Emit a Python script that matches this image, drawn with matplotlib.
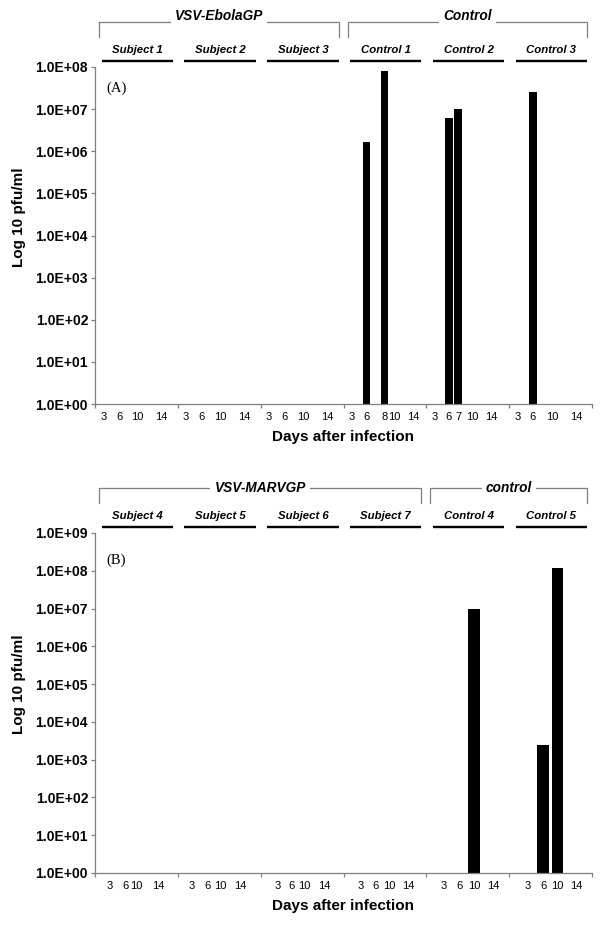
import matplotlib
matplotlib.use('Agg')
import matplotlib.pyplot as plt
from matplotlib.ticker import FixedLocator, NullLocator, FuncFormatter

plt.rcParams['font.family'] = ['Liberation Sans', 'DejaVu Sans']

# ---- panel A: VSV-EbolaGP vaccinated vs controls
groups_a = ['Subject 1', 'Subject 2', 'Subject 3', 'Control 1', 'Control 2', 'Control 3']
days_a = [[3, 6, 10, 14], [3, 6, 10, 14], [3, 6, 10, 14],
          [3, 6, 8, 10, 14], [3, 6, 7, 10, 14], [3, 6, 10, 14]]
bar_group_a = ['Control 1', 'Control 1', 'Control 2', 'Control 2', 'Control 3']
bar_day_a = [6, 8, 6, 7, 6]
bar_titer_a = [1.65e6, 8.0e7, 6.3e6, 1.0e7, 2.6e7]
brackets_a = [('VSV-EbolaGP', 0, 3), ('Control', 3, 6)]

# ---- panel B: VSV-MARVGP vaccinated vs controls
groups_b = ['Subject 4', 'Subject 5', 'Subject 6', 'Subject 7', 'Control 4', 'Control 5']
days_b = [[3, 6, 10, 14]] * 6
bar_group_b = ['Control 4', 'Control 5', 'Control 5']
bar_day_b = [10, 6, 10]
bar_titer_b = [1.0e7, 2.4e3, 1.2e8]
brackets_b = [('VSV-MARVGP', 0, 4), ('control', 4, 6)]

# where each day sits inside its group (fraction of group width), as in the original
slots_a = [[0.10, 0.29, 0.51, 0.80]] * 3 + [[0.093, 0.278, 0.495, 0.616, 0.845],
                                            [0.097, 0.27, 0.384, 0.556, 0.785],
                                            [0.097, 0.287, 0.52, 0.81]]
slots_b = [[0.173, 0.371, 0.504, 0.765], [0.165, 0.355, 0.516, 0.749],
           [0.20, 0.371, 0.531, 0.765], [0.209, 0.383, 0.552, 0.785],
           [0.214, 0.402, 0.576, 0.806], [0.221, 0.411, 0.583, 0.813]]

GRAY = '#7f7f7f'
W, H = 604, 926

fig = plt.figure(figsize=(W / 100, H / 100), dpi=100)
ax_a = fig.add_axes([95 / W, 1 - 404 / H, 497 / W, 337 / H])
ax_b = fig.add_axes([95 / W, 1 - 873 / H, 497 / W, 340 / H])


def draw_panel(ax, groups, days, slots, bar_group, bar_day, bar_titer, brackets,
               top_exp, tag, tag_y, bar_w, title_raise):
    h_px = ax.get_position().height * H

    def up(px):
        return 1 + px / h_px

    # bars start at 1.0E+00
    for g, d, v in zip(bar_group, bar_day, bar_titer):
        gi = groups.index(g)
        x = gi + slots[gi][days[gi].index(d)]
        ax.bar(x, v - 1, bottom=1, width=bar_w, color='black', edgecolor='none')

    ax.set_yscale('log')
    ax.set_ylim(1, 10 ** top_exp)
    ax.yaxis.set_major_locator(FixedLocator([10.0 ** k for k in range(top_exp + 1)]))
    ax.yaxis.set_minor_locator(NullLocator())
    ax.yaxis.set_major_formatter(FuncFormatter(lambda v, _: '%.1E' % v))

    n = len(groups)
    ax.set_xlim(0, n)
    ax.set_xticks(range(n + 1))
    ax.set_xticklabels([])
    pos, labs = [], []
    for gi in range(n):
        for d, s in zip(days[gi], slots[gi]):
            pos.append(gi + s)
            labs.append(str(d))
    ax.set_xticks(pos, labels=labs, minor=True)

    for sp in ['top', 'right']:
        ax.spines[sp].set_visible(False)
    for sp in ['left', 'bottom']:
        ax.spines[sp].set_color(GRAY)
        ax.spines[sp].set_linewidth(0.9)
    ax.tick_params(axis='y', which='major', length=3, width=0.9, color=GRAY, pad=2,
                   labelsize=10)
    for t in ax.get_yticklabels():
        t.set_fontweight('bold')
    ax.tick_params(axis='x', which='major', length=3, width=0.9, color=GRAY)
    ax.tick_params(axis='x', which='minor', length=0, pad=5.5, labelsize=8)

    ax.set_ylabel('Log 10 pfu/ml', fontsize=11, fontweight='bold')
    ax.yaxis.set_label_coords(-0.139, 0.555)
    ax.set_xlabel('Days after infection', fontsize=11, fontweight='bold', va='center')
    ax.xaxis.set_label_coords(0.5, -33 / h_px)

    ax.text(0.022, tag_y, tag, transform=ax.transAxes, fontsize=10.5,
            family='Liberation Serif', va='center', ha='left')

    tr = ax.get_xaxis_transform()
    # subject labels with underline
    for gi, name in enumerate(groups):
        ax.plot([gi + 0.08, gi + 0.94], [up(6), up(6)], transform=tr, color='black',
                lw=1.7, clip_on=False, solid_capstyle='butt')
        ax.text(gi + 0.51, up(17), name, transform=tr, ha='center', va='center',
                fontsize=8.2, fontweight='bold', style='italic')

    # group brackets
    for name, g0, g1 in brackets:
        x0, x1 = g0 + 0.05, g1 - 0.06
        ax.plot([x0, x0, x1, x1], [up(30), up(45), up(45), up(30)], transform=tr,
                color=GRAY, lw=0.9, clip_on=False)
        ax.text((x0 + x1) / 2, up(45 + title_raise), name, transform=tr,
                ha='center', va='center', fontsize=9.8, fontweight='bold',
                style='italic',
                bbox=dict(fc='white', ec='none', boxstyle='square,pad=0.3'))


draw_panel(ax_a, groups_a, days_a, slots_a, bar_group_a, bar_day_a, bar_titer_a,
           brackets_a, 8, '(A)', 0.938, 0.093, 6)
draw_panel(ax_b, groups_b, days_b, slots_b, bar_group_b, bar_day_b, bar_titer_b,
           brackets_b, 9, '(B)', 0.92, 0.139, 0)

fig.savefig('out.png', dpi=100)
